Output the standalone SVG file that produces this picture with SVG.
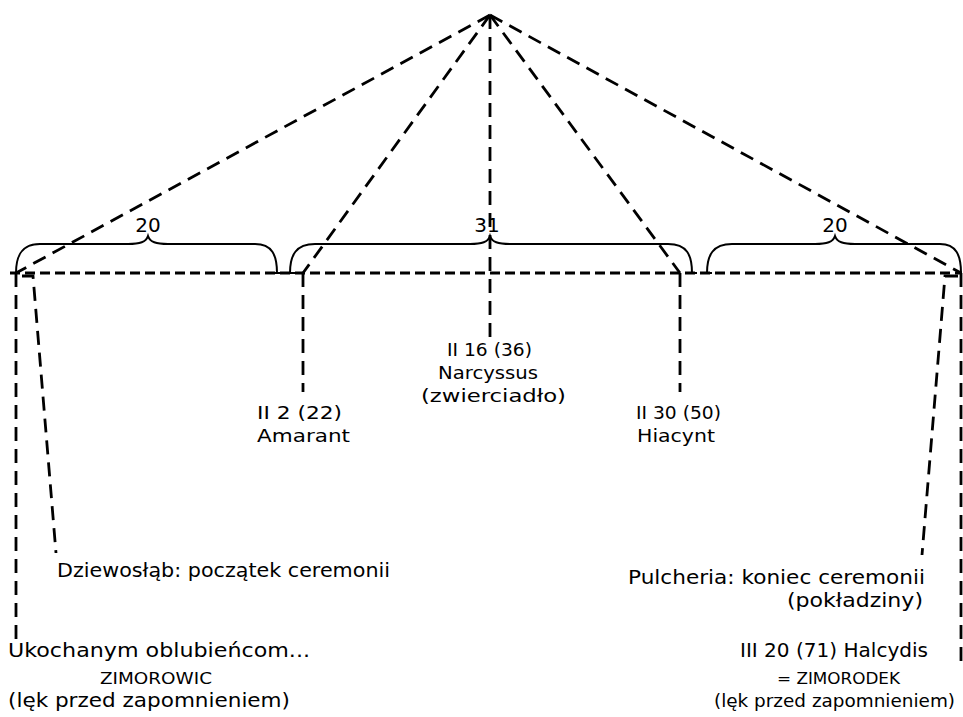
<svg xmlns="http://www.w3.org/2000/svg" width="963" height="717" viewBox="0 0 963 717">
<style>
text{font-family:"DejaVu Sans","Liberation Sans",sans-serif;fill:#000;}
.m{font-size:18px;}
.l{font-size:20px;}
.s{font-size:15px;}
.b{font-size:20px;text-anchor:middle;}
.d{fill:none;stroke:#000;stroke-width:2.8;stroke-dasharray:14 8;}
.h{fill:none;stroke:#000;stroke-width:3;stroke-dasharray:10 5;}
.br{fill:none;stroke:#000;stroke-width:2;}
</style>
<rect width="963" height="717" fill="#fff"/>
<g id="connectors">
<line class="h" x1="10" y1="273" x2="962" y2="273"/>
<line class="d" x1="490" y1="15" x2="16" y2="273"/>
<line class="d" x1="490" y1="15" x2="303" y2="273"/>
<line class="d" x1="490" y1="15" x2="490" y2="338"/>
<line class="d" x1="490" y1="15" x2="680" y2="273"/>
<line class="d" x1="490" y1="15" x2="961" y2="273"/>
<line class="d" x1="16" y1="273" x2="16" y2="640"/>
<line class="d" x1="303" y1="273" x2="303" y2="392"/>
<line class="d" x1="680" y1="273" x2="680" y2="392"/>
<polyline class="d" points="22,276 33,276 56,553"/>
<polyline class="d" points="958,276 945,276 922,555"/>
<line class="d" x1="961" y1="273" x2="961" y2="665"/>
</g>
<g id="braces">
<path class="br" d="M16,273 C16,255 22,244 40,244 L128,244 C140,244 146,242 148,236 C150,242 156,244 168,244 L255,244 C272,244 277,255 277,273 M272,273 H282"/>
<path class="br" d="M290,273 C290,255 296,244 315,244 L470,244 C482,244 488,242 490,236 C492,242 498,244 510,244 L668,244 C687,244 692,255 692,273 M285,273 H295 M687,273 H697"/>
<path class="br" d="M707,273 C707,255 713,244 732,244 L815,244 C827,244 833,242 835,236 C837,242 843,244 855,244 L940,244 C956,244 961,255 961,273 M702,273 H712"/>
<text class="b" x="148" y="232">20</text>
<text class="b" x="487" y="232">31</text>
<text class="b" x="835" y="232">20</text>
</g>
<g id="node-narcyssus">
<text class="m" x="447" y="356" textLength="85" lengthAdjust="spacingAndGlyphs">II 16 (36)</text>
<text class="m" x="438" y="379" textLength="100" lengthAdjust="spacingAndGlyphs">Narcyssus</text>
<text class="m" x="421" y="402" textLength="145" lengthAdjust="spacingAndGlyphs">(zwierciadło)</text>
</g>
<g id="node-amarant">
<text class="m" x="257" y="419" textLength="85" lengthAdjust="spacingAndGlyphs">II 2 (22)</text>
<text class="m" x="257" y="442" textLength="93" lengthAdjust="spacingAndGlyphs">Amarant</text>
</g>
<g id="node-hiacynt">
<text class="m" x="636" y="419" textLength="85" lengthAdjust="spacingAndGlyphs">II 30 (50)</text>
<text class="m" x="637" y="442" textLength="78" lengthAdjust="spacingAndGlyphs">Hiacynt</text>
</g>
<g id="node-dziewoslab">
<text class="l" x="57" y="577" textLength="333" lengthAdjust="spacingAndGlyphs">Dziewosłąb: początek ceremonii</text>
</g>
<g id="node-ukochanym">
<text class="l" x="8" y="657" textLength="302" lengthAdjust="spacingAndGlyphs">Ukochanym oblubieńcom...</text>
<text class="s" x="100" y="684" textLength="112" lengthAdjust="spacingAndGlyphs">ZIMOROWIC</text>
<text class="l" x="8" y="707" textLength="282" lengthAdjust="spacingAndGlyphs">(lęk przed zapomnieniem)</text>
</g>
<g id="node-pulcheria">
<text class="l" x="628" y="584" textLength="297" lengthAdjust="spacingAndGlyphs">Pulcheria: koniec ceremonii</text>
<text class="l" x="787" y="607" textLength="136" lengthAdjust="spacingAndGlyphs">(pokładziny)</text>
</g>
<g id="node-halcydis">
<text class="l" x="740" y="657" textLength="188" lengthAdjust="spacingAndGlyphs">III 20 (71) Halcydis</text>
<text class="s" x="777" y="684" textLength="123" lengthAdjust="spacingAndGlyphs">= ZIMORODEK</text>
<text x="714" y="707" font-size="18" textLength="241" lengthAdjust="spacingAndGlyphs">(lęk przed zapomnieniem)</text>
</g>
</svg>
